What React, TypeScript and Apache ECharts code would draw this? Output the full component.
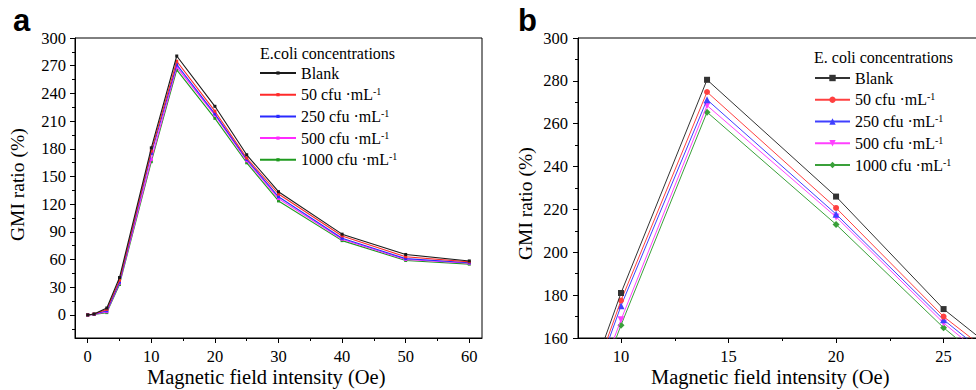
import React, { useEffect, useRef } from 'react';
import * as echarts from 'echarts';

// ---------------- data ----------------
const fieldOe = [0, 1, 3, 5, 10, 14, 20, 25, 30, 40, 50, 60];
const seriesNames = ['Blank', '50 cfu ·mL-1', '250 cfu ·mL-1', '500 cfu ·mL-1', '1000 cfu ·mL-1'];
const blank = [0, 1, 7.5, 40.5, 181, 280.5, 226, 173.5, 133.5, 87.5, 65.5, 58.5];
const cfu50 = [0, 1, 6, 37.5, 177.5, 274.8, 220.7, 170, 131, 85.5, 63, 57.5];
const cfu250 = [0, 0.8, 4.5, 35.5, 175, 271.2, 217.8, 168.5, 128, 83, 61, 56.5];
const cfu500 = [0, 0.6, 3.5, 34.5, 168.5, 268.5, 216.5, 167, 126, 82, 60, 56];
const cfu1000 = [0, 0.5, 2.5, 33, 166, 265.4, 213, 164.8, 123.5, 80.5, 59, 55];
const allValues = [blank, cfu50, cfu250, cfu500, cfu1000];

// tick values
const yTicksA = [0, 30, 60, 90, 120, 150, 180, 210, 240, 270, 300];
const yMinorA = [-15, 15, 45, 75, 105, 135, 165, 195, 225, 255, 285];
const xTicksA = [0, 10, 20, 30, 40, 50, 60];
const xMinorA = [5, 15, 25, 35, 45, 55];
const xTicksB = [10, 15, 20, 25];
const xMinorB = [12.5, 17.5, 22.5];

const xTitle = 'Magnetic field intensity (Oe)';
const yTitle = 'GMI ratio (%)';

const colorsA = ['#1a1a1a', '#ff2a2a', '#2a2aff', '#ff2aff', '#1f9a1f'];
const colorsB = ['#333333', '#ff4040', '#4040ff', '#ff40ff', '#3aa03a'];
const symbolsB = ['rect', 'circle', 'triangle', 'path://M0,0L10,0L5,9Z', 'diamond'];
const symbolSizeB = [6, 6, 7, 7, 7];

const SERIF = '"Liberation Serif", "Times New Roman", serif';
const SANS = '"Liberation Sans", Arial, sans-serif';

const fmt = (name: string) => name.replace(/-1$/, '{sup|-1}');

const legendText = {
  fontFamily: SERIF,
  fontSize: 16,
  color: '#000',
  lineHeight: 16,
  rich: {
    sup: { fontFamily: SERIF, fontSize: 10, lineHeight: 9, verticalAlign: 'top', color: '#000' },
  },
};

const labelStyle = { fontFamily: SERIF, fontSize: 16.5, color: '#000' };
const black = { color: '#000', width: 1 };

// xx: left edge of x title, yBottom: bottom end of rotated y title
function axisTitles(xx: number, xy: number, yx: number, yBottom: number) {
  return [
    {
      type: 'text', x: xx, y: xy, silent: true,
      style: { text: xTitle, fontFamily: SERIF, fontSize: 20.5, fill: '#000', align: 'left', verticalAlign: 'middle' },
    },
    {
      type: 'text', x: yx, y: yBottom, rotation: Math.PI / 2, silent: true,
      style: { text: yTitle, fontFamily: SERIF, fontSize: 19.5, fill: '#000', align: 'left', verticalAlign: 'middle' },
    },
  ];
}

function buildA() {
  return {
    animation: false,
    backgroundColor: '#ffffff',
    title: [
      { text: 'a', left: 13, top: 5, padding: 0, textStyle: { fontFamily: SANS, fontWeight: 'bold', fontSize: 31, color: '#000' } },
      { text: 'E.coli concentrations', left: 260, top: 45, padding: 0, textStyle: { fontFamily: SERIF, fontWeight: 'normal', fontSize: 16, color: '#000' } },
    ],
    legend: {
      orient: 'vertical', left: 259, top: 65, padding: 0,
      itemWidth: 36, itemHeight: 4, itemGap: 5.7,
      textStyle: legendText, formatter: fmt, data: seriesNames,
    },
    graphic: axisTitles(147, 376.5, 17.5, 241),
    grid: { left: 75, top: 38, width: 407, height: 300, show: true, borderColor: '#000', borderWidth: 1, containLabel: false, outerBoundsMode: 'none' },
    xAxis: [
      {
        type: 'value', min: -2, max: 62, position: 'bottom',
        axisLine: { show: true, onZero: false, lineStyle: black },
        axisTick: { show: true, length: 5, customValues: xTicksA, lineStyle: black },
        axisLabel: { customValues: xTicksA, margin: 10, ...labelStyle },
        splitLine: { show: false },
      },
      {
        type: 'value', min: -2, max: 62, position: 'bottom',
        axisLine: { show: false, onZero: false },
        axisTick: { show: true, length: 3, customValues: xMinorA, lineStyle: black },
        axisLabel: { show: false }, splitLine: { show: false },
      },
    ],
    yAxis: [
      {
        type: 'value', min: -25, max: 300, position: 'left',
        axisLine: { show: true, onZero: false, lineStyle: black },
        axisTick: { show: true, length: 5, customValues: yTicksA, lineStyle: black },
        axisLabel: { customValues: yTicksA, margin: 9, ...labelStyle },
        splitLine: { show: false },
      },
      {
        type: 'value', min: -25, max: 300, position: 'left',
        axisLine: { show: false, onZero: false },
        axisTick: { show: true, length: 3, customValues: yMinorA, lineStyle: black },
        axisLabel: { show: false }, splitLine: { show: false },
      },
    ],
    series: seriesNames.map((name, i) => ({
      name, type: 'line', xAxisIndex: 0, yAxisIndex: 0,
      data: fieldOe.map((x, j) => [x, allValues[i][j]]),
      symbol: 'rect', symbolSize: 3, showSymbol: true,
      lineStyle: { color: colorsA[i], width: 1.1 },
      itemStyle: { color: colorsA[i] },
      z: 10 - i,
    })),
  };
}

function buildB() {
  return {
    animation: false,
    backgroundColor: '#ffffff',
    title: [
      { text: 'b', left: 30, top: 5, padding: 0, textStyle: { fontFamily: SANS, fontWeight: 'bold', fontSize: 31, color: '#000' } },
      { text: 'E. coli concentrations', left: 326, top: 49, padding: 0, textStyle: { fontFamily: SERIF, fontWeight: 'normal', fontSize: 16, color: '#000' } },
    ],
    legend: {
      orient: 'vertical', left: 326, top: 70, padding: 0,
      itemWidth: 35, itemHeight: 8, itemGap: 5.75,
      textStyle: legendText, formatter: fmt, data: seriesNames,
    },
    graphic: axisTitles(163, 376.5, 37.5, 260),
    grid: { left: 90, top: 38, width: 400, height: 300, show: true, borderColor: '#000', borderWidth: 1, containLabel: false, outerBoundsMode: 'none' },
    xAxis: [
      {
        type: 'value', min: 8, max: 26.6, position: 'bottom',
        axisLine: { show: true, onZero: false, lineStyle: black },
        axisTick: { show: true, length: 5, customValues: xTicksB, lineStyle: black },
        axisLabel: { customValues: xTicksB, margin: 10, ...labelStyle },
        splitLine: { show: false },
      },
      {
        type: 'value', min: 8, max: 26.6, position: 'bottom',
        axisLine: { show: false, onZero: false },
        axisTick: { show: true, length: 3, customValues: xMinorB, lineStyle: black },
        axisLabel: { show: false }, splitLine: { show: false },
      },
    ],
    yAxis: {
      type: 'value', min: 160, max: 300, interval: 20, position: 'left',
      axisLine: { show: true, onZero: false, lineStyle: black },
      axisTick: { show: true, length: 5, lineStyle: black },
      minorTick: { show: true, splitNumber: 2, length: 3, lineStyle: black },
      axisLabel: { margin: 10, ...labelStyle },
      splitLine: { show: false },
    },
    series: seriesNames.map((name, i) => ({
      name, type: 'line', xAxisIndex: 0, yAxisIndex: 0,
      data: fieldOe.map((x, j) => [x, allValues[i][j]]),
      symbol: symbolsB[i], symbolSize: symbolSizeB[i], showSymbol: true,
      lineStyle: { color: colorsB[i], width: 1 },
      itemStyle: { color: colorsB[i] },
      clip: true,
      z: 10 - i,
    })),
  };
}

export default function App() {
  const refA = useRef<HTMLDivElement>(null);
  const refB = useRef<HTMLDivElement>(null);
  useEffect(() => {
    document.body.style.margin = '0';
    const a = echarts.init(refA.current!, null, { renderer: 'svg' });
    const b = echarts.init(refB.current!, null, { renderer: 'svg' });
    a.setOption(buildA() as any);
    b.setOption(buildB() as any);
    return () => {
      a.dispose();
      b.dispose();
    };
  }, []);
  return (
    <div style={{ position: 'absolute', left: 0, top: 0, width: 976, height: 390, background: '#fff' }}>
      <div ref={refA} style={{ position: 'absolute', left: 0, top: 0, width: 488, height: 390 }} />
      <div ref={refB} style={{ position: 'absolute', left: 488, top: 0, width: 488, height: 390 }} />
    </div>
  );
}
